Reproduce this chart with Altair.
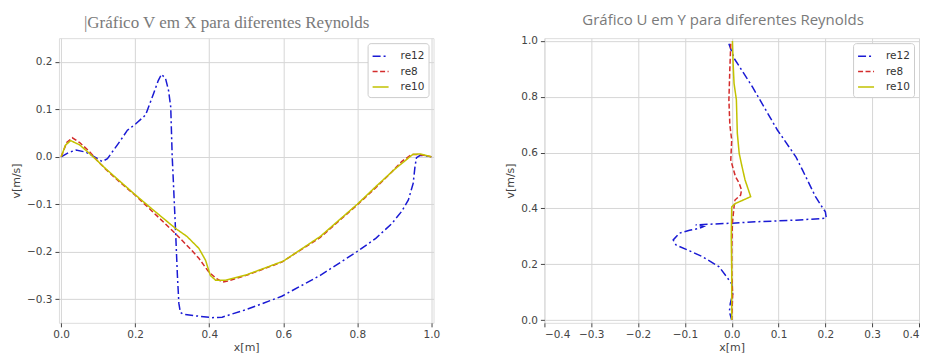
import altair as alt
import pandas as pd

series = ["re12", "re8", "re10"]
colors = ["#1a1ad4", "#d42c2c", "#c2c200"]
dashes = [[8, 3, 2, 3], [5, 2.5], [1, 0]]

# ---- Left panel: V em X ----
vx_re12 = [0, 0.02, 0.04, 0.066, 0.09, 0.111, 0.125, 0.138, 0.16, 0.179, 0.201, 0.228, 0.25, 0.262,
           0.271, 0.282, 0.29, 0.296, 0.30, 0.303, 0.309, 0.314, 0.318, 0.322, 0.33, 0.36, 0.408,
           0.435, 0.5, 0.596, 0.7, 0.799, 0.85, 0.893, 0.92, 0.938, 0.951, 0.956, 0.96, 0.97, 0.985, 1.0]
vy_re12 = [0, 0.009, 0.014, 0.01, 0.0, -0.01, -0.004, 0.01, 0.034, 0.056, 0.069, 0.088, 0.134, 0.16,
           0.174, 0.165, 0.14, 0.105, 0.0, -0.05, -0.155, -0.25, -0.309, -0.328, -0.332, -0.335, -0.339,
           -0.338, -0.322, -0.294, -0.25, -0.2, -0.172, -0.141, -0.115, -0.091, -0.056, -0.02, -0.002,
           0.003, 0.002, 0.0]

vx_re8 = [0, 0.015, 0.03, 0.05, 0.075, 0.1, 0.12, 0.152, 0.2, 0.25, 0.309, 0.35, 0.372, 0.399, 0.42,
          0.435, 0.45, 0.5, 0.596, 0.7, 0.799, 0.85, 0.893, 0.92, 0.947, 0.965, 1.0]
vy_re8 = [0, 0.03, 0.040, 0.030, 0.012, -0.01, -0.026, -0.049, -0.081, -0.118, -0.162, -0.195, -0.214,
          -0.243, -0.257, -0.264, -0.262, -0.25, -0.222, -0.17, -0.102, -0.065, -0.032, -0.01, 0.005,
          0.005, 0.0]

vx_re10 = [0, 0.012, 0.026, 0.05, 0.075, 0.1, 0.12, 0.152, 0.2, 0.25, 0.309, 0.34, 0.372, 0.39, 0.403,
           0.417, 0.444, 0.5, 0.6, 0.7, 0.8, 0.85, 0.9, 0.95, 0.97, 1.0]
vy_re10 = [0, 0.025, 0.034, 0.025, 0.008, -0.01, -0.025, -0.047, -0.08, -0.113, -0.151, -0.168, -0.193,
           -0.218, -0.25, -0.26, -0.26, -0.249, -0.22, -0.168, -0.1, -0.063, -0.027, 0.005, 0.006, 0.0]

# ---- Right panel: U em Y ----
ux_re12 = [-0.006, 0.005, 0.044, 0.0975, 0.137, 0.151, 0.179, 0.195, 0.2, 0.202, 0.137, 0.05, 0.0015,
           -0.04, -0.077, -0.06, -0.07, -0.09, -0.112, -0.125, -0.119, -0.09, -0.0625, -0.027, -0.0056,
           0.0, 0.002, -0.003, -0.005, 0.0]
uy_re12 = [0.99, 0.938, 0.836, 0.681, 0.585, 0.538, 0.442, 0.40, 0.388, 0.365, 0.358, 0.352, 0.347,
           0.344, 0.341, 0.335, 0.328, 0.322, 0.311, 0.287, 0.269, 0.248, 0.227, 0.191, 0.143, 0.13,
           0.093, 0.06, 0.03, 0.0]

ux_re8 = [-0.002, -0.004, -0.006, -0.004, 0.0, -0.002, 0.008, 0.016, 0.021, 0.019, 0.007, 0.005, 0.0015,
          0.0, 0.0, 0.002, 0.0]
uy_re8 = [0.99, 0.9, 0.789, 0.7, 0.645, 0.573, 0.514, 0.49, 0.466, 0.448, 0.43, 0.406, 0.347, 0.25,
          0.179, 0.09, 0.0]

ux_re10 = [0.0015, 0.003, 0.005, 0.01, 0.012, 0.016, 0.022, 0.0285, 0.035, 0.0405, 0.0085, 0.0, -0.001,
           0.0, 0.0]
uy_re10 = [1.0, 0.92, 0.848, 0.789, 0.669, 0.597, 0.55, 0.502, 0.47, 0.442, 0.418, 0.406, 0.3, 0.179, 0.0]

left_ticks_x = [0.0, 0.2, 0.4, 0.6, 0.8, 1.0]
left_ticks_y = [-0.3, -0.2, -0.1, 0.0, 0.1, 0.2]
right_ticks_x = [-0.4, -0.3, -0.2, -0.1, 0.0, 0.1, 0.2, 0.3, 0.4]
right_ticks_y = [0.0, 0.2, 0.4, 0.6, 0.8, 1.0]


def frame(pairs):
    rows = []
    for name, xs, ys in pairs:
        for i, (a, b) in enumerate(zip(xs, ys)):
            rows.append({"x": a, "y": b, "s": name, "i": i})
    return pd.DataFrame(rows)


df_left = frame([("re12", vx_re12, vy_re12), ("re8", vx_re8, vy_re8), ("re10", vx_re10, vy_re10)])
df_right = frame([("re12", ux_re12, uy_re12), ("re8", ux_re8, uy_re8), ("re10", ux_re10, uy_re10)])

legend = alt.Legend(
    title=None, orient="top-right", offset=5, fillColor="white", strokeColor="#cccccc",
    padding=4, cornerRadius=3, symbolType="stroke", symbolSize=256, symbolStrokeWidth=1.5,
    labelFont="DejaVu Sans", labelFontSize=10.5, labelColor="#333333", rowPadding=0.5, labelOffset=11,
)


def axis(ticks, title, title_pad):
    return alt.Axis(
        values=ticks, format=".1f", title=title, grid=True, gridColor="#d6d6d6", gridWidth=1,
        tickColor="#444444", tickSize=4, domain=False, labelFont="DejaVu Sans", labelFontSize=10.5,
        labelColor="#444444", titleFont="DejaVu Sans", titleFontSize=11, titleFontWeight="normal",
        titleColor="#444444", labelPadding=3, titlePadding=title_pad,
    )


def panel(df, xdom, ydom, xticks, yticks, title):
    color = alt.Color("s:N", scale=alt.Scale(domain=series, range=colors), legend=legend)
    dash = alt.StrokeDash("s:N", scale=alt.Scale(domain=series, range=dashes), legend=legend)
    layers = []
    for s in series:
        layers.append(
            alt.Chart(df)
            .transform_filter(alt.datum.s == s)
            .mark_line(strokeWidth=1.5, clip=True)
            .encode(
                x=alt.X("x:Q", scale=alt.Scale(domain=xdom, nice=False, zero=False),
                        axis=axis(xticks, "x[m]", 1)),
                y=alt.Y("y:Q", scale=alt.Scale(domain=ydom, nice=False, zero=False),
                        axis=axis(yticks, "v[m/s]", 5)),
                order="i:Q",
                color=color,
                strokeDash=dash,
            )
        )
    return alt.layer(*layers).properties(width=375, height=285, title=title)


left = panel(
    df_left, [-0.006, 1.006], [-0.35, 0.25], left_ticks_x, left_ticks_y,
    alt.TitleParams(text="|Gráfico V em X para diferentes Reynolds", font="Liberation Serif", fontSize=17,
                    fontWeight="normal", color="#7a7a7a", anchor="start", frame="group", dx=25, offset=6),
)
right = panel(
    df_right, [-0.4, 0.4], [-0.01, 1.01], right_ticks_x, right_ticks_y,
    alt.TitleParams(text="Gráfico U em Y para diferentes Reynolds", font="Open Sans", fontSize=15,
                    fontWeight="normal", color="#7a7a7a", anchor="start", frame="group", dx=38, offset=8),
)

chart = (
    alt.hconcat(left, right, spacing=63)
    .resolve_scale(color="independent", strokeDash="independent")
    .resolve_legend(color="independent", strokeDash="independent")
    .properties(padding={"left": 2, "top": 4, "right": 0, "bottom": 0})
    .configure_view(stroke="#444444", strokeWidth=1)
    .configure(background="white")
)

chart.save("out.html", embed_options={"renderer": "svg", "actions": False})
